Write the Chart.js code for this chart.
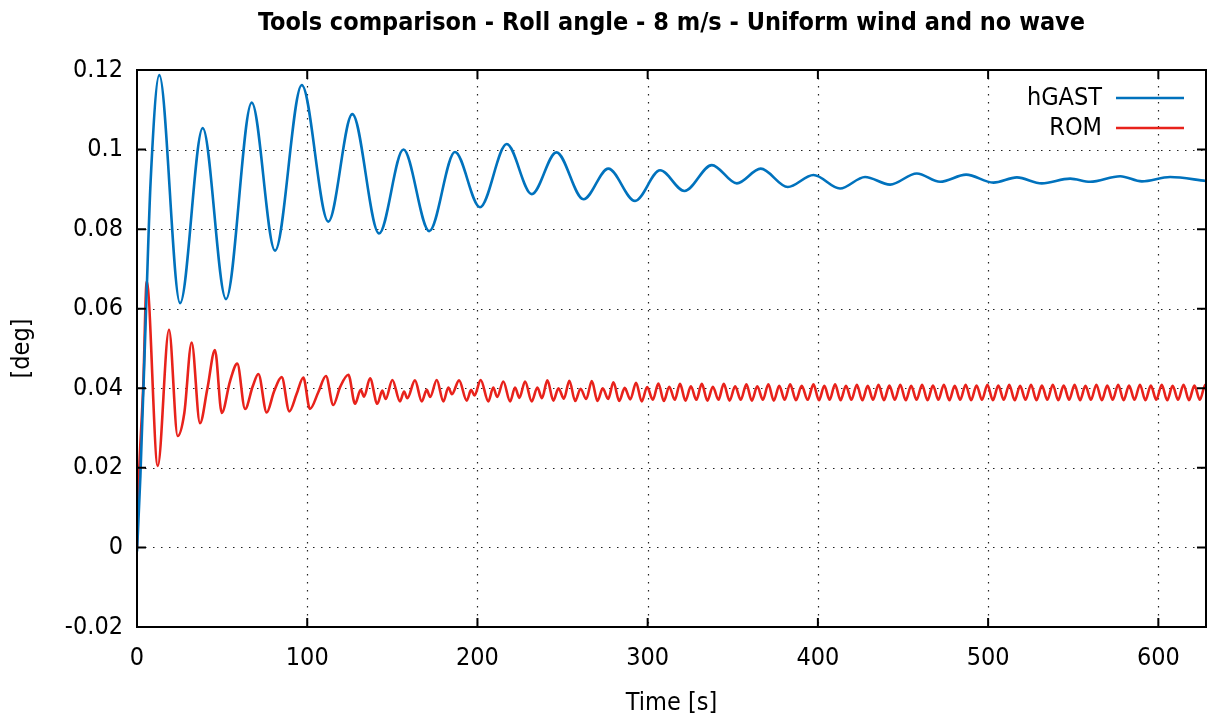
<!DOCTYPE html>
<html lang="en">
<head>
  <meta charset="UTF-8" />
  <title>Tools comparison - Roll angle</title>
  <script src="https://cdn.jsdelivr.net/npm/chart.js"></script>
  <style>
    html, body { margin: 0; padding: 0; background: #fff; }
    #wrap { width: 1211px; height: 721px; }
  </style>
</head>
<body>
  <div id="wrap"><canvas id="rollChart" width="1211" height="721"></canvas></div>

  <script>
    // hGAST roll response: time [s] / roll [deg] at turning points
    const hgastTime = [0, 2.0, 5.5, 8.0, 13.1, 25.3, 38.6, 52.3, 67.4, 81.1, 96.8, 112.4, 126.5, 142.2,
      156.5, 171.7, 186.8, 201.5, 217.2, 231.9, 246.4, 262.3, 276.9, 292.6, 307.3, 321.6, 337.7, 352.4,
      366.4, 382.3, 397.4, 413.0, 427.7, 442.4, 458.1, 471.8, 487.1, 503.1, 516.9, 531.5, 548.2, 559.9,
      577.6, 590.3, 606.9, 628];
    const hgastRoll = [-0.001, 0.018, 0.062, 0.092, 0.1187, 0.0614, 0.1054, 0.0624, 0.1118, 0.0746, 0.1162, 0.0819, 0.1089, 0.0789,
      0.1000, 0.0795, 0.0994, 0.0855, 0.1014, 0.0888, 0.0993, 0.0875, 0.0952, 0.0871, 0.0948, 0.0896, 0.0961, 0.0915,
      0.0952, 0.0906, 0.0936, 0.0902, 0.0931, 0.0912, 0.0940, 0.0919, 0.0937, 0.0917, 0.0930, 0.0915, 0.0927, 0.0919,
      0.0933, 0.0920, 0.0931, 0.0921];

    // ROM roll response
    const romTime = [0, 0.8, 3.7, 5.7, 12.2, 18.8, 23.9, 27.8, 32.1, 37.0, 41.3, 45.8, 49.8, 54.6, 58.9, 63.5,
      68.0, 71.3, 76.2, 80.5, 85.0, 89.5, 93.8, 97.7, 101.6, 106.5, 111.0, 115.3, 119.3, 124.2, 128.1,
      131.4, 133.4, 136.9, 141.2, 144.1, 146.1, 150.0, 154.5, 156.9, 158.8, 163.3, 167.3, 170.2, 172.2,
      176.1, 180.0, 182.9, 185.0, 189.2, 193.7, 196.3, 198.3, 201.9, 206.4, 209.3, 211.6, 215.2, 219.2, 222.1,
      224.6, 228.0, 231.9, 235.2, 237.9, 241.1, 244.6, 247.6, 250.8, 254.0, 257.4, 260.6, 263.9, 267.2,
      270.5, 273.6, 276.8, 279.9, 283.3, 286.5, 289.8, 293.2, 296.5, 299.7, 303.0, 306.3, 309.5, 312.7,
      315.9, 319.0, 322.2, 325.4, 328.6, 331.8, 335.1, 338.3, 341.6, 344.7, 348.1, 351.4, 354.7, 358.0,
      361.2, 364.4, 367.7, 370.9, 374.1, 377.3, 380.5, 383.7, 387.1, 390.5, 394.0, 397.4, 400.6, 403.8,
      406.9, 410.1, 413.3, 416.5, 419.7, 422.9, 426.1, 429.3, 432.4, 435.6, 438.8, 442.0, 445.2, 448.4,
      451.6, 454.8, 458.0, 461.2, 464.4, 467.6, 470.8, 474.0, 477.2, 480.4, 483.6, 486.8, 490.0, 493.2,
      496.4, 499.6, 502.8, 506.0, 509.2, 512.4, 515.6, 518.8, 522.0, 525.2, 528.4, 531.6, 534.8, 538.0,
      541.2, 544.4, 547.6, 550.8, 554.0, 557.2, 560.4, 563.6, 566.8, 570.0, 573.2, 576.4, 579.6, 582.8,
      586.0, 589.2, 592.4, 595.6, 598.8, 602.0, 605.2, 608.4, 611.6, 614.8, 618.0, 621.2, 624.4, 627.6, 628];
    const romRoll = [0, 0.014, 0.041, 0.0668, 0.0205, 0.0547, 0.0280, 0.0338, 0.0515, 0.0312, 0.0398, 0.0496, 0.0338, 0.0417, 0.0462, 0.0348,
      0.0405, 0.0436, 0.0339, 0.0392, 0.0428, 0.0342, 0.0386, 0.0427, 0.0348, 0.0390, 0.0431, 0.0358, 0.0403, 0.0434, 0.0361,
      0.0396, 0.0379, 0.0425, 0.0361, 0.0394, 0.0373, 0.0421, 0.0367, 0.0392, 0.0375, 0.0420, 0.0367, 0.0396, 0.0378,
      0.0421, 0.0367, 0.0402, 0.0385, 0.0420, 0.0369, 0.0396, 0.0382, 0.0421, 0.0367, 0.0402, 0.0378, 0.0417, 0.0367, 0.0402,
      0.0376, 0.0417, 0.0367, 0.0402, 0.0375, 0.0420, 0.0369, 0.0400, 0.0374, 0.0419, 0.0368, 0.0399, 0.0373, 0.0418,
      0.0368, 0.0400, 0.0373, 0.0415, 0.0368, 0.0401, 0.0372, 0.0414, 0.0367, 0.0403, 0.0371, 0.0412, 0.0368, 0.0404,
      0.0371, 0.0411, 0.0369, 0.0405, 0.0371, 0.0411, 0.0369, 0.0404, 0.0371, 0.0411, 0.0369, 0.0405, 0.0371, 0.0410,
      0.0369, 0.0405, 0.0371, 0.0410, 0.0369, 0.0406, 0.0371, 0.0410, 0.0370, 0.0406, 0.0371, 0.0410, 0.0370, 0.0406,
      0.0371, 0.0410, 0.0370, 0.0406, 0.0371, 0.0409, 0.0370, 0.0406, 0.0371, 0.0409, 0.0370, 0.0407, 0.0371, 0.0409,
      0.0370, 0.0406, 0.0371, 0.0409, 0.0370, 0.0407, 0.0371, 0.0409, 0.0370, 0.0406, 0.0371, 0.0409, 0.0370, 0.0407,
      0.0371, 0.0409, 0.0370, 0.0407, 0.0371, 0.0409, 0.0370, 0.0406, 0.0371, 0.0409, 0.0370, 0.0407, 0.0371, 0.0409,
      0.0370, 0.0407, 0.0371, 0.0409, 0.0370, 0.0406, 0.0371, 0.0409, 0.0370, 0.0407, 0.0371, 0.0409, 0.0370, 0.0407,
      0.0371, 0.0409, 0.0370, 0.0407, 0.0371, 0.0409, 0.0370, 0.0406, 0.0371, 0.0409, 0.0370, 0.0407, 0.0371, 0.0409, 0.0405];

    const xTicks = [0, 100, 200, 300, 400, 500, 600];
    const yTicks = [-0.02, 0, 0.02, 0.04, 0.06, 0.08, 0.1, 0.12];

    const FONT = "'DejaVu Sans Condensed', 'Liberation Sans', sans-serif";
    const BLUE = '#0072bd';
    const RED = '#e8221b';

    const toPoints = (xs, ys) => xs.map((t, i) => ({ x: t, y: ys[i] }));

    // gnuplot-like frame: dotted grid, full border, inward ticks on all sides, title and key
    const framePlugin = {
      id: 'frame',
      beforeDatasetsDraw(chart) {
        const { ctx, chartArea: a, scales: { x, y } } = chart;
        ctx.save();
        ctx.strokeStyle = '#222';
        ctx.lineWidth = 1.2;
        ctx.setLineDash([1.5, 6.5]);
        xTicks.forEach(v => {
          const px = Math.round(x.getPixelForValue(v)) + 0.5;
          if (px <= a.left + 2 || px >= a.right - 2) return;
          ctx.beginPath(); ctx.moveTo(px, a.top); ctx.lineTo(px, a.bottom); ctx.stroke();
        });
        yTicks.forEach(v => {
          const py = Math.round(y.getPixelForValue(v)) + 0.5;
          if (py <= a.top + 2 || py >= a.bottom - 2) return;
          ctx.beginPath(); ctx.moveTo(a.left, py); ctx.lineTo(a.right, py); ctx.stroke();
        });
        ctx.restore();
      },
      afterDatasetsDraw(chart) {
        const { ctx, chartArea: a, scales: { x, y } } = chart;
        ctx.save();
        ctx.strokeStyle = '#000';
        ctx.lineWidth = 2;
        ctx.setLineDash([]);
        ctx.strokeRect(a.left, a.top, a.right - a.left, a.bottom - a.top);
        const tl = 9;
        ctx.beginPath();
        xTicks.forEach(v => {
          const px = x.getPixelForValue(v);
          ctx.moveTo(px, a.bottom); ctx.lineTo(px, a.bottom - tl);
          ctx.moveTo(px, a.top); ctx.lineTo(px, a.top + tl);
        });
        yTicks.forEach(v => {
          const py = y.getPixelForValue(v);
          ctx.moveTo(a.left, py); ctx.lineTo(a.left + tl, py);
          ctx.moveTo(a.right, py); ctx.lineTo(a.right - tl, py);
        });
        ctx.stroke();

        // title, centred over the plot
        ctx.fillStyle = '#000';
        ctx.font = 'bold 25px ' + FONT;
        ctx.textAlign = 'center';
        ctx.textBaseline = 'middle';
        ctx.fillText('Tools comparison - Roll angle - 8 m/s - Uniform wind and no wave', (a.left + a.right) / 2, 23);

        // key
        ctx.font = '25px ' + FONT;
        ctx.textAlign = 'right';
        chart.data.datasets.forEach((ds, i) => {
          const ky = 98 + i * 30;
          ctx.fillStyle = '#000';
          ctx.fillText(ds.label, 1102, ky);
          ctx.strokeStyle = ds.borderColor;
          ctx.lineWidth = 2.4;
          ctx.beginPath(); ctx.moveTo(1116, ky); ctx.lineTo(1184, ky); ctx.stroke();
        });
        ctx.restore();
      }
    };

    new Chart(document.getElementById('rollChart'), {
      type: 'line',
      data: {
        datasets: [
          {
            label: 'hGAST',
            data: toPoints(hgastTime, hgastRoll),
            borderColor: BLUE,
            borderWidth: 2.6,
            pointRadius: 0,
            fill: false,
            cubicInterpolationMode: 'monotone'
          },
          {
            label: 'ROM',
            data: toPoints(romTime, romRoll),
            borderColor: RED,
            borderWidth: 2.6,
            pointRadius: 0,
            fill: false,
            cubicInterpolationMode: 'monotone'
          }
        ]
      },
      options: {
        responsive: false,
        animation: false,
        devicePixelRatio: 1,
        layout: { padding: { top: 70, right: 5, left: 0, bottom: 0 } },
        plugins: {
          legend: { display: false },
          title: { display: false },
          tooltip: { enabled: false }
        },
        scales: {
          x: {
            type: 'linear',
            min: 0,
            max: 628,
            afterFit: s => { s.height = 94; },
            afterBuildTicks: s => { s.ticks = xTicks.map(v => ({ value: v })); },
            grid: { display: false, drawTicks: false },
            border: { display: false },
            ticks: { color: '#000', font: { family: FONT, size: 25 }, padding: 16 },
            title: { display: true, text: 'Time [s]', color: '#000', font: { family: FONT, size: 25 }, padding: { top: 0, bottom: 3 } }
          },
          y: {
            min: -0.02,
            max: 0.12,
            afterFit: s => { s.width = 137; },
            afterBuildTicks: s => { s.ticks = yTicks.map(v => ({ value: v })); },
            grid: { display: false, drawTicks: false },
            border: { display: false },
            ticks: { color: '#000', font: { family: FONT, size: 25 }, padding: 14, callback: v => String(+v.toFixed(2)) },
            title: { display: true, text: '[deg]', color: '#000', font: { family: FONT, size: 25 }, padding: { top: 7, bottom: 0 } }
          }
        }
      },
      plugins: [framePlugin]
    });
  </script>
</body>
</html>
